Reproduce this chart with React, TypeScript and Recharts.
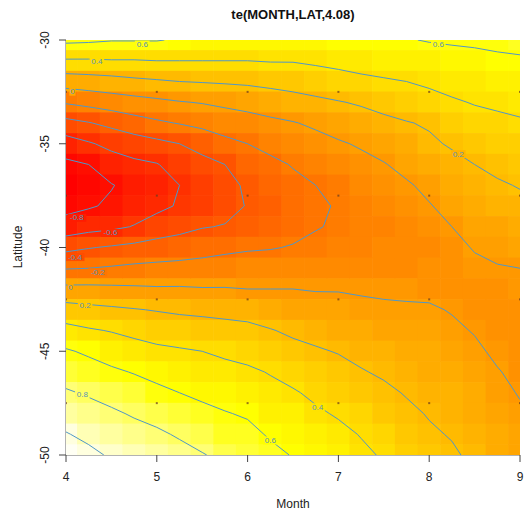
import React from "react";
import { ScatterChart, Scatter, XAxis, YAxis } from "recharts";

// grid of the fitted smooth: one column per month step, rows from lat -30 down to -50
const months = [4, 4.25, 4.5, 4.75, 5, 5.25, 5.5, 5.75, 6, 6.25, 6.5, 6.75, 7, 7.25, 7.5, 7.75, 8, 8.25, 8.5, 8.75, 9];
const latitudes = [-30, -31, -32, -33, -34, -35, -36, -37, -38, -39, -40, -41, -42, -43, -44, -45, -46, -47, -48, -49, -50];

const fitM400 = [0.64, 0.38, 0.09, -0.18, -0.46, -0.69, -0.84, -0.92, -0.86, -0.72, -0.45, -0.21, 0.05, 0.28, 0.46, 0.62, 0.72, 0.82, 0.92, 1.01, 1.09];
const fitM425 = [0.63, 0.38, 0.11, -0.14, -0.41, -0.62, -0.8, -0.86, -0.82, -0.67, -0.41, -0.2, 0.05, 0.25, 0.42, 0.57, 0.68, 0.78, 0.87, 0.96, 1.04];
const fitM450 = [0.61, 0.39, 0.13, -0.1, -0.35, -0.55, -0.69, -0.81, -0.77, -0.64, -0.38, -0.18, 0.04, 0.23, 0.39, 0.52, 0.63, 0.73, 0.83, 0.91, 0.98];
const fitM475 = [0.61, 0.39, 0.16, -0.07, -0.28, -0.5, -0.64, -0.74, -0.7, -0.59, -0.35, -0.16, 0.03, 0.21, 0.35, 0.48, 0.59, 0.69, 0.78, 0.87, 0.94];
const fitM500 = [0.61, 0.4, 0.18, -0.04, -0.23, -0.45, -0.61, -0.69, -0.65, -0.51, -0.32, -0.15, 0.02, 0.19, 0.32, 0.44, 0.55, 0.64, 0.74, 0.83, 0.9];
const fitM525 = [0.58, 0.4, 0.2, -0.01, -0.19, -0.4, -0.52, -0.6, -0.58, -0.46, -0.3, -0.14, 0.02, 0.17, 0.3, 0.42, 0.51, 0.6, 0.69, 0.78, 0.86];
const fitM550 = [0.56, 0.4, 0.21, 0.01, -0.15, -0.33, -0.46, -0.55, -0.53, -0.41, -0.27, -0.13, 0.01, 0.16, 0.28, 0.4, 0.48, 0.56, 0.65, 0.73, 0.81];
const fitM575 = [0.55, 0.4, 0.22, 0.04, -0.11, -0.25, -0.4, -0.46, -0.46, -0.39, -0.24, -0.12, 0.01, 0.15, 0.26, 0.37, 0.45, 0.53, 0.61, 0.68, 0.76];
const fitM600 = [0.55, 0.4, 0.23, 0.07, -0.08, -0.2, -0.29, -0.37, -0.39, -0.32, -0.22, -0.11, 0.0, 0.13, 0.25, 0.34, 0.43, 0.5, 0.58, 0.65, 0.71];
const fitM625 = [0.54, 0.41, 0.25, 0.1, -0.04, -0.15, -0.24, -0.31, -0.33, -0.29, -0.21, -0.11, 0.0, 0.1, 0.21, 0.3, 0.39, 0.45, 0.52, 0.58, 0.65];
const fitM650 = [0.55, 0.41, 0.27, 0.13, -0.01, -0.1, -0.19, -0.24, -0.27, -0.25, -0.19, -0.1, 0.0, 0.08, 0.17, 0.25, 0.33, 0.42, 0.49, 0.55, 0.59];
const fitM675 = [0.56, 0.43, 0.3, 0.16, 0.03, -0.06, -0.14, -0.2, -0.22, -0.21, -0.16, -0.09, -0.01, 0.07, 0.14, 0.22, 0.29, 0.36, 0.43, 0.49, 0.55];
const fitM700 = [0.57, 0.45, 0.33, 0.19, 0.08, -0.02, -0.1, -0.16, -0.19, -0.18, -0.14, -0.08, -0.01, 0.06, 0.12, 0.19, 0.26, 0.32, 0.38, 0.45, 0.51];
const fitM725 = [0.57, 0.47, 0.36, 0.22, 0.12, 0.02, -0.05, -0.11, -0.14, -0.15, -0.13, -0.08, -0.02, 0.04, 0.1, 0.16, 0.21, 0.27, 0.33, 0.39, 0.44];
const fitM750 = [0.58, 0.49, 0.38, 0.27, 0.15, 0.07, -0.01, -0.06, -0.1, -0.12, -0.11, -0.08, -0.03, 0.03, 0.08, 0.13, 0.18, 0.23, 0.28, 0.33, 0.38];
const fitM775 = [0.59, 0.5, 0.4, 0.3, 0.19, 0.12, 0.05, -0.02, -0.06, -0.09, -0.1, -0.08, -0.03, 0.02, 0.07, 0.11, 0.15, 0.19, 0.23, 0.28, 0.32];
const fitM800 = [0.61, 0.52, 0.43, 0.34, 0.22, 0.17, 0.1, 0.04, -0.01, -0.05, -0.08, -0.07, -0.04, 0.02, 0.06, 0.09, 0.12, 0.16, 0.19, 0.22, 0.26];
const fitM825 = [0.62, 0.54, 0.46, 0.38, 0.3, 0.22, 0.15, 0.1, 0.05, 0.0, -0.04, -0.07, -0.06, -0.01, 0.03, 0.07, 0.1, 0.13, 0.16, 0.19, 0.22];
const fitM850 = [0.63, 0.55, 0.48, 0.41, 0.34, 0.27, 0.2, 0.15, 0.1, 0.05, 0.01, -0.03, -0.05, -0.04, -0.01, 0.03, 0.06, 0.09, 0.12, 0.15, 0.17];
const fitM875 = [0.64, 0.57, 0.5, 0.43, 0.36, 0.3, 0.24, 0.18, 0.13, 0.08, 0.04, -0.01, -0.04, -0.06, -0.05, -0.03, 0.01, 0.04, 0.07, 0.1, 0.12];
const fitM900 = [0.65, 0.58, 0.51, 0.45, 0.38, 0.32, 0.27, 0.21, 0.16, 0.11, 0.06, 0.0, -0.03, -0.05, -0.07, -0.06, -0.04, -0.01, 0.02, 0.05, 0.08];
const surface = [
  fitM400, fitM425, fitM450, fitM475, fitM500, fitM525, fitM550, fitM575, fitM600, fitM625, fitM650,
  fitM675, fitM700, fitM725, fitM750, fitM775, fitM800, fitM825, fitM850, fitM875, fitM900,
];

const monthTicks = [4, 5, 6, 7, 8, 9];
const latTicks = [-50, -45, -40, -35, -30];
const contourLevels = [-0.8, -0.6, -0.4, -0.2, 0, 0.2, 0.4, 0.6, 0.8, 1];

// observation positions drawn as small dots
const obsMonths = [4, 5, 6, 7, 8, 9];
const obsLats = [-32.5, -37.5, -42.5, -47.5];

const contourLabels = [
  { x: 4.84, y: -30.22, text: "0.6" },
  { x: 4.34, y: -31.02, text: "0.4" },
  { x: 4.07, y: -32.49, text: "0" },
  { x: 4.12, y: -38.57, text: "-0.8" },
  { x: 4.49, y: -39.3, text: "-0.6" },
  { x: 4.1, y: -40.46, text: "-0.4" },
  { x: 4.35, y: -41.2, text: "-0.2" },
  { x: 4.05, y: -41.95, text: "0" },
  { x: 4.21, y: -42.8, text: "0.2" },
  { x: 4.18, y: -47.1, text: "0.8" },
  { x: 6.77, y: -47.7, text: "0.4" },
  { x: 6.25, y: -49.3, text: "0.6" },
  { x: 8.1, y: -30.2, text: "0.6" },
  { x: 8.32, y: -35.5, text: "0.2" },
];

const W = 527;
const H = 517;
const PLOT_L = 66;
const PLOT_R = 520;
const PLOT_T = 40;
const PLOT_B = 455;
const LINE = "#4f97c9";
const FONT = "'Liberation Sans', Arial, sans-serif";

const allVals = surface.flat();
const zMin = Math.min(...allVals);
const zMax = Math.max(...allVals);

function hsvHex(h: number, s: number, v: number) {
  const f = (n: number) => {
    const k = (n + h * 6) % 6;
    return v - v * s * Math.max(0, Math.min(k, 4 - k, 1));
  };
  const to = (c: number) => Math.round(c * 255).toString(16).padStart(2, "0");
  return "#" + to(f(5)) + to(f(3)) + to(f(1));
}

// R heat.colors(50)
function heatColor(z: number) {
  const n = 50;
  const j = Math.floor(n / 4);
  const i = n - j;
  const t = (z - zMin) / (zMax - zMin);
  const k = Math.min(n - 1, Math.max(0, Math.floor(t * n)));
  if (k < i) return hsvHex((k / (i - 1)) / 6, 1, 1);
  const s0 = 1 - 1 / (2 * j);
  const s1 = 1 / (2 * j);
  const s = s0 + ((k - i) * (s1 - s0)) / (j - 1);
  return hsvHex(1 / 6, s, 1);
}

const heatData = months.flatMap((m, i) =>
  latitudes.map((lat, j) => ({ x: m, y: lat, color: heatColor(surface[i][j]) }))
);

const obsData = obsMonths.flatMap((m) => obsLats.map((lat) => ({ x: m, y: lat })));

type Pt = { x: number; y: number };

// marching squares on the grid, segments chained into polylines
function contourLines(level: number): Pt[][] {
  const nx = months.length;
  const ny = latitudes.length;
  const pts = new Map<string, Pt>();
  const adj = new Map<string, string[]>();
  const z = (i: number, j: number) => surface[i][j];
  const edgePoint = (key: string, i0: number, j0: number, i1: number, j1: number) => {
    if (!pts.has(key)) {
      const a = z(i0, j0);
      const b = z(i1, j1);
      const t = (level - a) / (b - a);
      pts.set(key, {
        x: months[i0] + t * (months[i1] - months[i0]),
        y: latitudes[j0] + t * (latitudes[j1] - latitudes[j0]),
      });
    }
    return key;
  };
  const link = (a: string, b: string) => {
    adj.set(a, [...(adj.get(a) || []), b]);
    adj.set(b, [...(adj.get(b) || []), a]);
  };
  for (let i = 0; i < nx - 1; i++) {
    for (let j = 0; j < ny - 1; j++) {
      const c = [z(i, j), z(i + 1, j), z(i + 1, j + 1), z(i, j + 1)];
      const up = c.map((v) => v >= level);
      const edges: [string, number, number, number, number][] = [
        [`h${i}_${j}`, i, j, i + 1, j],
        [`v${i + 1}_${j}`, i + 1, j, i + 1, j + 1],
        [`h${i}_${j + 1}`, i, j + 1, i + 1, j + 1],
        [`v${i}_${j}`, i, j, i, j + 1],
      ];
      const cross = [up[0] !== up[1], up[1] !== up[2], up[2] !== up[3], up[3] !== up[0]];
      const hits = [0, 1, 2, 3].filter((e) => cross[e]);
      const key = (e: number) => edgePoint(...edges[e]);
      if (hits.length === 2) link(key(hits[0]), key(hits[1]));
      else if (hits.length === 4) {
        const centerUp = (c[0] + c[1] + c[2] + c[3]) / 4 >= level;
        if (centerUp === up[0]) {
          link(key(0), key(1));
          link(key(2), key(3));
        } else {
          link(key(3), key(0));
          link(key(1), key(2));
        }
      }
    }
  }
  const used = new Set<string>();
  const walk = (start: string) => {
    const line = [start];
    used.add(start);
    let cur = start;
    for (;;) {
      const next = (adj.get(cur) || []).find((n) => !used.has(n));
      if (!next) break;
      used.add(next);
      line.push(next);
      cur = next;
    }
    return line;
  };
  const lines: string[][] = [];
  for (const [k, ns] of adj) if (ns.length === 1 && !used.has(k)) lines.push(walk(k));
  for (const k of adj.keys()) {
    if (!used.has(k)) {
      const l = walk(k);
      l.push(l[0]);
      lines.push(l);
    }
  }
  return lines.map((l) => l.map((k) => pts.get(k)!));
}

const contours = contourLevels.flatMap((lv) => contourLines(lv));

const cellW = (PLOT_R - PLOT_L) / (months.length - 1);
const cellH = (PLOT_B - PLOT_T) / (latitudes.length - 1);

const HeatCell = (props: any) => {
  const { cx, cy, payload } = props;
  const x0 = Math.max(PLOT_L, cx - cellW / 2 - 0.3);
  const x1 = Math.min(PLOT_R, cx + cellW / 2 + 0.3);
  const y0 = Math.max(PLOT_T, cy - cellH / 2 - 0.3);
  const y1 = Math.min(PLOT_B, cy + cellH / 2 + 0.3);
  return <rect x={x0} y={y0} width={x1 - x0} height={y1 - y0} fill={payload.color} />;
};

const ObsDot = (props: any) => (
  <rect x={props.cx - 1} y={props.cy - 1} width={2} height={2} fill="#6a3b1c" opacity={0.7} />
);

const nearestColor = (m: number, lat: number) => {
  const i = Math.round((m - months[0]) / (months[1] - months[0]));
  const j = Math.round(latitudes[0] - lat);
  return heatColor(surface[i][j]);
};

const LabelMark = (props: any) => {
  const { cx, cy, payload } = props;
  const w = payload.text.length * 4.2 + 2;
  return (
    <g>
      <rect x={cx - w / 2} y={cy - 4} width={w} height={8} fill={nearestColor(payload.x, payload.y)} />
      <text x={cx} y={cy} textAnchor="middle" dominantBaseline="central" fontSize={8} fontFamily={FONT} fill="#5b93b8">
        {payload.text}
      </text>
    </g>
  );
};

const XTick = (props: any) => (
  <text x={props.x} y={481} textAnchor="middle" fontSize={12} fontFamily={FONT} fill="#222">
    {props.payload.value}
  </text>
);

const YTick = (props: any) => (
  <text
    x={45}
    y={props.y}
    transform={`rotate(-90, 45, ${props.y})`}
    textAnchor="middle"
    dominantBaseline="central"
    fontSize={12}
    fontFamily={FONT}
    fill="#222"
  >
    {props.payload.value}
  </text>
);

export default function App() {
  return (
    <div style={{ position: "absolute", left: 0, top: 0, width: W, height: H, background: "#fff" }}>
      <div
        style={{
          position: "absolute",
          left: 0,
          width: 586,
          top: 7,
          textAlign: "center",
          fontFamily: FONT,
          fontWeight: "bold",
          fontSize: 13,
          color: "#111",
        }}
      >
        te(MONTH,LAT,4.08)
      </div>
      <div
        style={{
          position: "absolute",
          left: 0,
          width: 586,
          top: 497,
          textAlign: "center",
          fontFamily: FONT,
          fontSize: 12,
          color: "#222",
        }}
      >
        Month
      </div>
      <div
        style={{
          position: "absolute",
          left: 18 - 40,
          top: 247 - 8,
          width: 80,
          height: 16,
          lineHeight: "16px",
          textAlign: "center",
          transform: "rotate(-90deg)",
          fontFamily: FONT,
          fontSize: 12,
          color: "#222",
        }}
      >
        Latitude
      </div>
      <ScatterChart width={W} height={H} margin={{ top: PLOT_T, right: W - PLOT_R, bottom: 0, left: 0 }}>
        <XAxis
          type="number"
          dataKey="x"
          domain={[4, 9]}
          ticks={monthTicks}
          allowDataOverflow
          height={H - PLOT_B}
          tickSize={7}
          tick={XTick}
          axisLine={{ stroke: "#666" }}
          tickLine={{ stroke: "#444" }}
        />
        <YAxis
          type="number"
          dataKey="y"
          domain={[-50, -30]}
          ticks={latTicks}
          allowDataOverflow
          width={PLOT_L}
          tickSize={7}
          tick={YTick}
          axisLine={{ stroke: "#666" }}
          tickLine={{ stroke: "#444" }}
        />
        <Scatter data={heatData} shape={HeatCell} isAnimationActive={false} />
        {contours.map((pts, idx) => (
          <Scatter
            key={`c${idx}`}
            data={pts}
            line={{ stroke: LINE, strokeWidth: 1 }}
            shape={() => <g />}
            isAnimationActive={false}
          />
        ))}
        <Scatter data={obsData} shape={ObsDot} isAnimationActive={false} />
        <Scatter data={contourLabels} shape={LabelMark} isAnimationActive={false} />
      </ScatterChart>
    </div>
  );
}
